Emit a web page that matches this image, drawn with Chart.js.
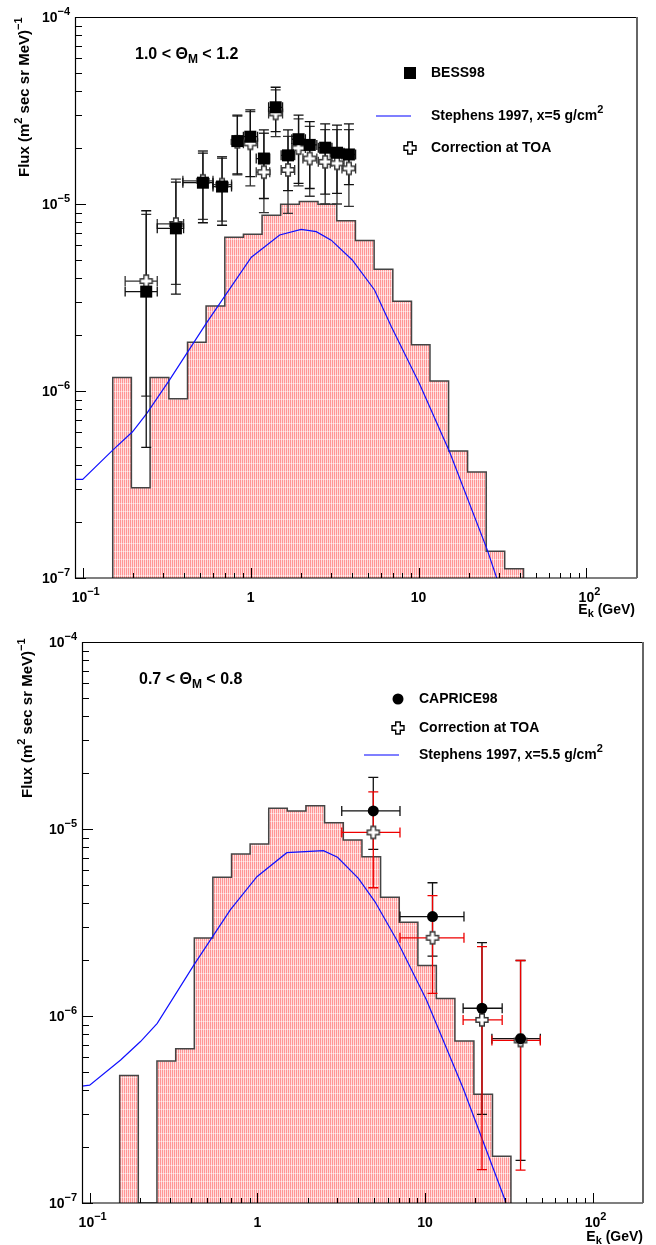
<!DOCTYPE html>
<html>
<head>
<meta charset="utf-8">
<script src="https://cdn.jsdelivr.net/npm/chart.js@4.4.0/dist/chart.umd.min.js"></script>
<style>
  html, body { margin: 0; padding: 0; background: #fff; }
  canvas { display: block; }
</style>
</head>
<body>
<canvas id="bessChart" width="656" height="622"></canvas>
<canvas id="capriceChart" width="656" height="623"></canvas>
<script>
// histogram bin edges (GeV), same for both panels
const binEdges = [0.151, 0.195, 0.252, 0.326, 0.421, 0.543, 0.702, 0.906, 1.17, 1.51, 1.95, 2.52, 3.26, 4.21, 5.44, 7.03, 9.08, 11.7, 15.1, 19.6, 25.3, 32.6, 42.2];

// ---- top panel: 1.0 < theta < 1.2 ----
const histTop = [1.18e-6, 3.04e-7, 1.18e-6, 9.1e-7, 1.82e-6, 2.85e-6, 6.64e-6, 6.89e-6, 8.71e-6, 9.96e-6, 1.03e-5, 9.96e-6, 8.14e-6, 6.38e-6, 4.48e-6, 3.02e-6, 1.77e-6, 1.13e-6, 4.77e-7, 3.69e-7, 1.39e-7, 1.12e-7];

const stephensTopE = [0.09, 0.1, 0.151, 0.198, 0.241, 0.330, 0.544, 1.01, 1.49, 2.0, 2.46, 3.02, 4.03, 5.47, 6.88, 10.1, 15.3, 25.7, 30];
const stephensTopFlux = [3.37e-7, 3.37e-7, 4.83e-7, 6.05e-7, 7.6e-7, 1.15e-6, 2.30e-6, 5.19e-6, 6.83e-6, 7.32e-6, 7.11e-6, 6.41e-6, 5.02e-6, 3.47e-6, 2.21e-6, 1.10e-6, 4.73e-7, 1.41e-7, 9.3e-8];

const bessE = [0.239, 0.359, 0.520, 0.676, 0.834, 0.996, 1.20, 1.41, 1.67, 1.93, 2.25, 2.78, 3.27, 3.85];
const bessELo = [0.179, 0.278, 0.395, 0.597, 0.78, 0.906, 1.08, 1.28, 1.52, 1.76, 2.05, 2.53, 2.98, 3.50];
const bessEHi = [0.278, 0.399, 0.597, 0.77, 0.90, 1.10, 1.30, 1.55, 1.83, 2.12, 2.48, 3.05, 3.60, 4.22];
const bessFlux = [3.40e-6, 7.41e-6, 1.30e-5, 1.24e-5, 2.17e-5, 2.29e-5, 1.75e-5, 3.29e-5, 1.82e-5, 2.22e-5, 2.07e-5, 2.00e-5, 1.88e-5, 1.84e-5];
const bessFluxLo = [5.0e-7, 3.30e-6, 7.94e-6, 7.7e-6, 1.45e-5, 1.40e-5, 1.07e-5, 2.44e-5, 1.18e-5, 1.29e-5, 1.21e-5, 1.13e-5, 1.14e-5, 1.27e-5];
const bessFluxHi = [9.2e-6, 1.31e-5, 1.87e-5, 1.76e-5, 2.99e-5, 3.19e-5, 2.49e-5, 4.21e-5, 2.49e-5, 2.99e-5, 2.76e-5, 2.68e-5, 2.64e-5, 2.68e-5];

const toaTopFlux = [3.87e-6, 7.82e-6, 1.33e-5, 1.27e-5, 2.15e-5, 2.11e-5, 1.48e-5, 3.05e-5, 1.52e-5, 1.99e-5, 1.75e-5, 1.68e-5, 1.65e-5, 1.55e-5];
const toaTopFluxLo = [9.4e-7, 3.72e-6, 8.28e-6, 8.1e-6, 1.43e-5, 1.25e-5, 9.0e-6, 2.29e-5, 8.9e-6, 1.25e-5, 1.1e-5, 1.0e-5, 1.0e-5, 9.7e-6];
const toaTopFluxHi = [8.8e-6, 1.36e-5, 1.92e-5, 1.79e-5, 2.95e-5, 3.12e-5, 2.39e-5, 4.08e-5, 2.3e-5, 2.85e-5, 2.6e-5, 2.5e-5, 2.5e-5, 2.5e-5];

// ---- bottom panel: 0.7 < theta < 0.8 ----
const histBottom = [4.80e-7, 0, 5.74e-7, 6.68e-7, 2.61e-6, 5.52e-6, 7.34e-6, 8.31e-6, 1.29e-5, 1.25e-5, 1.33e-5, 1.08e-5, 8.73e-6, 7.11e-6, 4.31e-6, 3.17e-6, 1.86e-6, 1.24e-6, 7.34e-7, 3.81e-7, 1.78e-7];

const stephensBotE = [0.09, 0.1, 0.153, 0.201, 0.253, 0.418, 0.690, 0.995, 1.50, 2.48, 3.01, 4.01, 5.04, 6.79, 10.2, 16.9, 29.9, 32];
const stephensBotFlux = [4.22e-7, 4.27e-7, 5.82e-7, 7.30e-7, 9.14e-7, 1.87e-6, 3.69e-6, 5.56e-6, 7.47e-6, 7.66e-6, 7.06e-6, 5.45e-6, 4.08e-6, 2.55e-6, 1.22e-6, 4.11e-7, 1.05e-7, 8.5e-8];

const capriceE = [4.92, 11.1, 21.9, 37.2];
const capriceELo = [3.19, 7.10, 16.9, 25.1];
const capriceEHi = [7.10, 17.1, 28.9, 48.8];
const capriceFlux = [1.25e-5, 3.40e-6, 1.10e-6, 7.56e-7];
const capriceFluxLo = [7.78e-6, 2.09e-6, 2.98e-7, 1.69e-7];
const capriceFluxHi = [1.89e-5, 5.16e-6, 2.47e-6, 1.98e-6];

const toaBotFlux = [9.59e-6, 2.62e-6, 9.53e-7, 7.4e-7];
const toaBotFluxLo = [4.85e-6, 1.32e-6, 1.51e-7, 1.50e-7];
const toaBotFluxHi = [1.58e-5, 4.40e-6, 2.35e-6, 1.98e-6];

// axis ticks
const xTickValues = [0.1, 1, 10, 100];
const xTickBase = ['10', '1', '10', '10'];
const xTickExp = ['\u22121', '', '', '2'];
const yTickValues = [1e-4, 1e-5, 1e-6, 1e-7];
const yTickExp = ['\u22124', '\u22125', '\u22126', '\u22127'];

const X_MIN = 0.09, X_MAX = 200, Y_MIN = 1e-7, Y_MAX = 1e-4;
const FONT = '"Liberation Sans", Arial, sans-serif';

// pink hatched fill like the original
const makeHatch = () => {
    const c = document.createElement('canvas');
    c.width = 2; c.height = 8;
    const g = c.getContext('2d');
    for (let r = 0; r < 8; r++) {
        g.fillStyle = r === 7 ? '#ffc4c4' : '#ff9696';
        g.fillRect(0, r, 1, 1);
        g.fillStyle = r === 7 ? '#fff0f0' : '#ffdede';
        g.fillRect(1, r, 1, 1);
    }
    return g.createPattern(c, 'repeat');
};

const crossPath = (g, x, y) => {
    const a = 2.3, L = 6;
    const pts = [[-a, -L], [a, -L], [a, -a], [L, -a], [L, a], [a, a], [a, L], [-a, L], [-a, a], [-L, a], [-L, -a], [-a, -a]];
    g.beginPath();
    pts.forEach(([px, py], i) => i ? g.lineTo(x + px, y + py) : g.moveTo(x + px, y + py));
    g.closePath();
};

const makeCrossImage = (stroke) => {
    const c = document.createElement('canvas');
    c.width = 16; c.height = 16;
    const g = c.getContext('2d');
    crossPath(g, 8, 8);
    g.fillStyle = '#fff';
    g.fill();
    g.strokeStyle = stroke;
    g.lineWidth = 1.4;
    g.stroke();
    return c;
};

const stepPoints = (edges, values) => {
    const pts = [{x: edges[0], y: Y_MIN}];
    values.forEach((v, i) => pts.push({x: edges[i], y: v > 0 ? v : Y_MIN}));
    pts.push({x: edges[values.length], y: values[values.length - 1]});
    pts.push({x: edges[values.length], y: Y_MIN});
    return pts;
};

const toPoints = (xs, ys) => xs.map((x, i) => ({x, y: ys[i]}));

// text with sub/superscripts: parts = [[text, ''|'sup'|'sub'], ...]
const drawRich = (ctx, parts, x, y, size, align) => {
    const fontFor = k => `bold ${k ? Math.round(size * 0.75) : size}px ${FONT}`;
    let w = 0;
    parts.forEach(([t, k]) => { ctx.font = fontFor(k); w += ctx.measureText(t).width; });
    let cx = align === 'right' ? x - w : align === 'center' ? x - w / 2 : x;
    ctx.textAlign = 'left';
    ctx.textBaseline = 'middle';
    parts.forEach(([t, k]) => {
        ctx.font = fontFor(k);
        const dy = k === 'sup' ? -size * 0.42 : k === 'sub' ? size * 0.3 : 0;
        ctx.fillText(t, cx, y + dy);
        cx += ctx.measureText(t).width;
    });
};

const panels = {
    bessChart: {
        label: [['1.0 < \u0398', ''], ['M', 'sub'], [' < 1.2', '']],
        labelAt: [60, 38],
        legendAt: [335, 56],
        legendGaps: [0, 43, 75],
        legend: [
            {kind: 'square', text: [['BESS98', '']]},
            {kind: 'line', text: [['Stephens 1997, x=5 g/cm', ''], ['2', 'sup']]},
            {kind: 'cross', text: [['Correction at TOA', '']]}
        ],
        yTitleAt: [-50, 160],
        xTitleAt: [-2, 32]
    },
    capriceChart: {
        label: [['0.7 < \u0398', ''], ['M', 'sub'], [' < 0.8', '']],
        labelAt: [57, 38],
        legendAt: [316, 57],
        legendGaps: [0, 29, 56],
        legend: [
            {kind: 'circle', text: [['CAPRICE98', '']]},
            {kind: 'cross', text: [['Correction at TOA', '']]},
            {kind: 'line', text: [['Stephens 1997, x=5.5 g/cm', ''], ['2', 'sup']]}
        ],
        yTitleAt: [-54, 156],
        xTitleAt: [0, 34]
    }
};

const drawErrorBars = (chart, ds) => {
    const {ctx, scales: {x, y}} = chart;
    ctx.strokeStyle = ds.errColor;
    ctx.lineWidth = 1.3;
    const cap = 5;
    ds.data.forEach((p, i) => {
        const px = x.getPixelForValue(p.x), py = y.getPixelForValue(p.y);
        const yl = y.getPixelForValue(ds.errY[i][0]), yh = y.getPixelForValue(ds.errY[i][1]);
        const xl = x.getPixelForValue(ds.errX[i][0]), xh = x.getPixelForValue(ds.errX[i][1]);
        ctx.beginPath();
        ctx.moveTo(px, yl); ctx.lineTo(px, yh);
        ctx.moveTo(px - cap, yl); ctx.lineTo(px + cap, yl);
        ctx.moveTo(px - cap, yh); ctx.lineTo(px + cap, yh);
        ctx.moveTo(xl, py); ctx.lineTo(xh, py);
        ctx.moveTo(xl, py - cap); ctx.lineTo(xl, py + cap);
        ctx.moveTo(xh, py - cap); ctx.lineTo(xh, py + cap);
        ctx.stroke();
    });
};

const framePlugin = {
    id: 'frame',
    beforeDatasetDraw(chart, args) {
        if (!chart.data.datasets[args.index].drawErrorsHere) return;
        const a = chart.chartArea;
        const ctx = chart.ctx;
        ctx.save();
        ctx.beginPath();
        ctx.rect(a.left, a.top, a.right - a.left, a.bottom - a.top);
        ctx.clip();
        chart.data.datasets
            .filter(d => d.errY)
            .sort((d1, d2) => d1.errLayer - d2.errLayer)
            .forEach(d => drawErrorBars(chart, d));
        ctx.restore();
    },
    afterDraw(chart) {
        const spec = panels[chart.canvas.id];
        const {ctx, chartArea: a, scales: {x, y}} = chart;
        ctx.save();
        ctx.fillStyle = '#000';

        // tick marks, inside the frame
        ctx.strokeStyle = '#000';
        ctx.lineWidth = 1;
        ctx.beginPath();
        for (let e = -7; e < -4; e++) {
            for (let m = 1; m < 10; m++) {
                const py = Math.round(y.getPixelForValue(m * Math.pow(10, e))) + 0.5;
                ctx.moveTo(a.left, py);
                ctx.lineTo(a.left + (m === 1 ? 11 : 7), py);
            }
        }
        for (let e = -2; e < 3; e++) {
            for (let m = 1; m < 10; m++) {
                const v = m * Math.pow(10, e);
                if (v < X_MIN || v > X_MAX) continue;
                const px = Math.round(x.getPixelForValue(v)) + 0.5;
                ctx.moveTo(px, a.bottom);
                ctx.lineTo(px, a.bottom - (m === 1 ? 10 : 5));
            }
        }
        ctx.stroke();

        // frame
        ctx.lineWidth = 1.2;
        ctx.beginPath();
        ctx.moveTo(a.right, a.top + 0.5);
        ctx.lineTo(a.left + 0.5, a.top + 0.5);
        ctx.lineTo(a.left + 0.5, a.bottom);
        ctx.lineTo(a.right, a.bottom);
        ctx.stroke();
        ctx.strokeStyle = '#666';
        ctx.lineWidth = 2;
        ctx.beginPath();
        ctx.moveTo(a.right, a.top);
        ctx.lineTo(a.right, a.bottom);
        ctx.stroke();

        // tick labels
        yTickValues.forEach((v, i) => {
            const py = y.getPixelForValue(v);
            drawRich(ctx, [['10', ''], [yTickExp[i], 'sup']], a.left - 5, py + 1, 14, 'right');
        });
        xTickValues.forEach((v, i) => {
            const px = x.getPixelForValue(v);
            const parts = xTickExp[i] ? [[xTickBase[i], ''], [xTickExp[i], 'sup']] : [[xTickBase[i], '']];
            drawRich(ctx, parts, px + (xTickExp[i] ? 3 : 0), a.bottom + 20, 14, 'center');
        });

        // axis titles
        drawRich(ctx, [['E', ''], ['k', 'sub'], [' (GeV)', '']], a.right + spec.xTitleAt[0], a.bottom + spec.xTitleAt[1], 14, 'right');
        ctx.save();
        ctx.translate(a.left + spec.yTitleAt[0], a.top + spec.yTitleAt[1]);
        ctx.rotate(-Math.PI / 2);
        drawRich(ctx, [['Flux (m', ''], ['2', 'sup'], [' sec sr MeV)', ''], ['\u22121', 'sup']], 0, 0, 15, 'left');
        ctx.restore();

        // theta range label
        drawRich(ctx, spec.label, a.left + spec.labelAt[0], a.top + spec.labelAt[1], 16, 'left');

        // legend
        const lx = a.left + spec.legendAt[0];
        spec.legend.forEach((item, i) => {
            const ly = a.top + spec.legendAt[1] + spec.legendGaps[i];
            if (item.kind === 'square') {
                ctx.fillRect(lx - 6, ly - 6, 12, 12);
            } else if (item.kind === 'circle') {
                ctx.beginPath();
                ctx.arc(lx, ly, 5.5, 0, Math.PI * 2);
                ctx.fill();
            } else if (item.kind === 'cross') {
                crossPath(ctx, lx, ly);
                ctx.fillStyle = '#fff';
                ctx.fill();
                ctx.strokeStyle = '#000';
                ctx.lineWidth = 1.4;
                ctx.stroke();
                ctx.fillStyle = '#000';
            } else {
                ctx.strokeStyle = '#0000ff';
                ctx.lineWidth = 1.2;
                ctx.beginPath();
                ctx.moveTo(lx - 34, ly);
                ctx.lineTo(lx + 1, ly);
                ctx.stroke();
            }
            drawRich(ctx, item.text, lx + 21, ly, 14, 'left');
        });
        ctx.restore();
    }
};

const baseOptions = (padding) => ({
    responsive: false,
    animation: false,
    events: [],
    layout: {padding},
    plugins: {legend: {display: false}, tooltip: {enabled: false}},
    scales: {
        x: {type: 'logarithmic', min: X_MIN, max: X_MAX, display: false},
        y: {type: 'logarithmic', min: Y_MIN, max: Y_MAX, display: false}
    }
});

const histDataset = (values) => ({
    type: 'line',
    data: stepPoints(binEdges, values),
    showLine: true,
    stepped: true,
    fill: 'start',
    backgroundColor: makeHatch(),
    borderColor: '#444',
    borderWidth: 1.5,
    pointRadius: 0
});

const curveDataset = (es, fluxes) => ({
    type: 'line',
    data: toPoints(es, fluxes),
    showLine: true,
    borderColor: '#1010ff',
    borderWidth: 1.2,
    pointRadius: 0,
    tension: 0
});

new Chart(document.getElementById('bessChart'), {
    type: 'scatter',
    data: {
        datasets: [
            {
                label: 'BESS98',
                data: toPoints(bessE, bessFlux),
                pointStyle: 'rect',
                pointRadius: 8.5,
                backgroundColor: '#000',
                borderColor: '#000',
                borderWidth: 0,
                errY: bessFluxLo.map((lo, i) => [lo, bessFluxHi[i]]),
                errX: bessELo.map((lo, i) => [lo, bessEHi[i]]),
                errColor: '#111',
                errLayer: 2
            },
            {
                label: 'Correction at TOA',
                data: toPoints(bessE, toaTopFlux),
                pointStyle: makeCrossImage('#333'),
                pointRadius: 6,
                errY: toaTopFluxLo.map((lo, i) => [lo, toaTopFluxHi[i]]),
                errX: bessELo.map((lo, i) => [lo, bessEHi[i]]),
                errColor: '#333',
                errLayer: 1,
                drawErrorsHere: true
            },
            curveDataset(stephensTopE, stephensTopFlux),
            histDataset(histTop)
        ]
    },
    options: baseOptions({left: 75, top: 17, right: 19, bottom: 44}),
    plugins: [framePlugin]
});

new Chart(document.getElementById('capriceChart'), {
    type: 'scatter',
    data: {
        datasets: [
            {
                label: 'CAPRICE98',
                data: toPoints(capriceE, capriceFlux),
                pointStyle: 'circle',
                pointRadius: 5.5,
                backgroundColor: '#000',
                borderColor: '#000',
                borderWidth: 0,
                errY: capriceFluxLo.map((lo, i) => [lo, capriceFluxHi[i]]),
                errX: capriceELo.map((lo, i) => [lo, capriceEHi[i]]),
                errColor: '#111',
                errLayer: 1
            },
            {
                label: 'Correction at TOA',
                data: toPoints(capriceE, toaBotFlux),
                pointStyle: makeCrossImage('#333'),
                pointRadius: 6,
                errY: toaBotFluxLo.map((lo, i) => [lo, toaBotFluxHi[i]]),
                errX: capriceELo.map((lo, i) => [lo, capriceEHi[i]]),
                errColor: '#ee0000',
                errLayer: 2,
                drawErrorsHere: true
            },
            curveDataset(stephensBotE, stephensBotFlux),
            histDataset(histBottom)
        ]
    },
    options: baseOptions({left: 82, top: 20, right: 13, bottom: 42}),
    plugins: [framePlugin]
});
</script>
</body>
</html>
